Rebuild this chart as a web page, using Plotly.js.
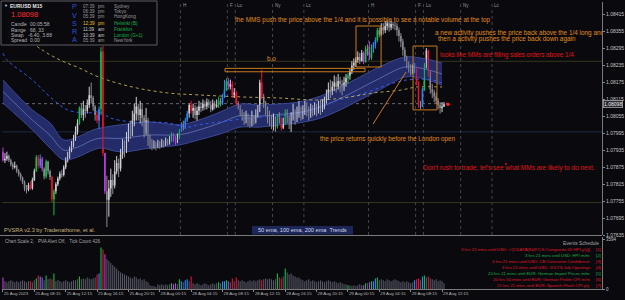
<!DOCTYPE html>
<html><head><meta charset="utf-8">
<script src="https://cdn.plot.ly/plotly-3.0.1.min.js"></script>
<style>html,body{margin:0;padding:0;background:#0a0a0e;}#chart{width:625px;height:300px;}</style>
</head><body><div id="chart"></div>
<script>
// ---------- DATA (prices in points above 1.07000, i.e. 1e-5 units) ----------
const tickBars = [0,16,32,48,64,80,96,112,128,144,160,176,192,208,224];
const tickLabels = ["25 Aug 2023","25 Aug 08:15","25 Aug 12:15","25 Aug 16:15","25 Aug 20:15","28 Aug 00:15","28 Aug 04:15","28 Aug 08:15","28 Aug 12:15","28 Aug 16:15","28 Aug 20:15","29 Aug 00:15","29 Aug 04:15","29 Aug 08:15","29 Aug 12:15"];
const firstOpen = 930;
const closePts = [900,905,915,900,885,875,880,862,850,838, 822,800,796,812,800,830,862,910,880,905,
 870,842,895,862,840,762,790,815,835,852, 848,875,900,915,935,955,975,1000,1030,1085,
 1060,1080,1075,1095,1130,1120,1090,1060,1040,1080, 1285,925,790,760,800,830,810,860,890,870,
 920,950,935,980,1010,990,1040,1065,1090,1060, 1080,1050,1000,1040,980,960,945,955,950,960,
 948,962,955,968,960,972,992,975,965,985, 1005,1025,1015,1040,1065,1095,1075,1085,1060,1075,
 1090,1085,1100,1090,1105,1095,1080,1100,1090,1095, 1110,1100,1125,1150,1180,1160,1170,1130,1140,1100,
 1090,1070,1060,1045,1055,1040,1030,1050,1035,1060, 1075,1175,1125,1100,1080,1060,1045,1030,1040,1020,
 1055,1045,1015,1030,1070,1050,1030,1050,1065,1045, 1060,1075,1060,1070,1085,1075,1065,1080,1070,1085,
 1075,1090,1080,1095,1110,1130,1150,1140,1160,1175, 1160,1180,1170,1155,1175,1190,1200,1215,1235,1245,
 1255,1265,1250,1280,1248,1295,1280,1262,1300,1310, 1325,1360,1345,1370,1360,1375,1385,1370,1382,1378,
 1375,1360,1340,1320,1290,1265,1240,1225,1215,1220, 1230,1175,1095,1090,1150,1235,1288,1205,1150,1140,
 1125,1110,1095,1085,1090,1098];
const highPts = [945,925,930,920,905,892,895,884,868,856, 842,828,812,820,825,838,870,918,918,920,
 912,875,902,898,866,845,798,822,842,860, 866,882,910,930,948,968,990,1020,1045,1090,
 1100,1110,1095,1115,1160,1175,1128,1095,1070,1090, 1300,1305,925,845,830,870,850,900,915,905,
 940,975,970,1000,1030,1040,1075,1100,1124,1100, 1110,1100,1060,1085,1050,990,975,970,965,972,
 968,975,970,980,975,985,998,995,985,995, 1010,1035,1040,1050,1075,1100,1110,1100,1095,1090,
 1110,1105,1115,1110,1118,1115,1110,1115,1110,1115, 1125,1120,1135,1184,1190,1190,1185,1180,1155,1145,
 1110,1095,1080,1070,1075,1065,1055,1075,1060,1080, 1095,1185,1220,1135,1110,1090,1075,1060,1065,1055,
 1062,1070,1050,1050,1080,1080,1060,1070,1100,1080, 1090,1110,1090,1095,1110,1105,1090,1100,1095,1105,
 1100,1110,1115,1115,1125,1150,1175,1185,1180,1200, 1195,1205,1195,1185,1195,1205,1208,1225,1250,1260,
 1265,1285,1280,1290,1285,1305,1310,1320,1310,1318, 1335,1368,1370,1385,1385,1392,1395,1392,1395,1390,
 1390,1385,1370,1350,1330,1300,1270,1250,1240,1238, 1244,1232,1180,1110,1158,1244,1297,1292,1215,1170,
 1150,1140,1120,1105,1105,1106];
const lowPts = [895,890,898,893,878,866,870,855,842,828, 815,790,782,790,795,795,826,858,870,872,
 860,832,835,850,830,752,705,780,808,828, 838,842,868,892,905,928,945,968,990,1025,
 1050,1040,1050,1065,1085,1100,1075,1040,1030,1010, 1060,915,780,663,700,770,780,800,850,840,
 860,905,910,925,965,975,985,1020,1040,1040, 1030,1020,980,990,950,940,935,940,935,942,
 940,945,945,950,952,955,965,965,955,960, 975,1000,1005,1010,1035,1050,1065,1050,1045,1040,
 1060,1070,1075,1078,1080,1085,1070,1075,1080,1085, 1085,1090,1095,1120,1145,1150,1150,1120,1120,1092,
 1080,1055,1040,1025,1030,1020,1015,1020,1025,1030, 1050,1070,1115,1085,1060,1030,1020,1010,1005,1000,
 1012,1030,1005,1010,1025,1030,1010,1000,1040,1025, 1035,1050,1040,1045,1060,1055,1040,1050,1055,1060,
 1055,1065,1060,1070,1080,1100,1115,1120,1130,1145, 1140,1150,1140,1130,1145,1160,1170,1185,1205,1220,
 1230,1245,1240,1250,1240,1245,1270,1255,1255,1280, 1295,1318,1335,1340,1345,1350,1360,1355,1360,1365,
 1360,1340,1320,1300,1270,1250,1225,1210,1200,1205, 1208,1165,1085,1080,1088,1145,1225,1195,1135,1120,
 1105,1100,1080,1065,1070,1088];
const tickVolumes = [840,560,490,560,630,560,490,560,490,560, 630,560,490,560,560,490,630,770,980,910,
 840,630,980,700,770,700,1120,560,630,560, 490,560,630,560,490,560,630,630,700,910,
 700,770,700,840,770,700,770,840,1050,1120, 3010,2870,2520,2170,2030,1890,1750,1610,1470,1330,
 1190,1120,1050,980,910,840,770,910,840,700, 770,630,700,560,490,280,210,210,140,350,
 280,350,280,350,280,350,420,350,420,350, 700,560,490,630,700,560,910,420,350,420,
 350,280,350,420,350,280,350,420,350,420, 490,420,560,560,630,560,490,770,560,840,
 630,560,630,560,490,560,630,560,630,560, 630,700,630,700,770,700,770,700,630,700,
 1120,840,770,910,1470,1190,1050,1120,980,910, 840,840,700,630,560,630,700,560,630,560,
 490,560,630,560,490,560,630,560,490,560, 490,420,490,420,350,350,280,280,210,280,
 210,280,350,280,280,420,420,490,560,560, 770,840,630,700,630,560,700,630,560,630,
 700,630,560,490,560,490,560,490,420,490, 630,700,770,630,910,980,840,910,770,700,
 630,700,560,630,560,426];
// PVSRA class per bar: n normal, g green climax bull, r red climax bear, b blue rising bull, v violet rising bear
const pvsraClass = ("vnnnnnnnnn"+"nnnnrnngrb"+"vngnnrgnnn"+"nnnnnnnnng"+"nnnnnnnnrb"+"grvnnnnnnn"+"nnnnnnnnnn"+"nnnnnnnnnn"+
 "nnnnnngvvn"+"gbnbbnrnnn"+"nnnnnnnnnn"+"gnbbgvnrnr"+"nnnnnnnnnn"+"nnrnnnnnnn"+"gnrngnnnnn"+"nnnnnnnnnn"+"nnnnnnnnnn"+
 "nnnnnngnnn"+"nnnnvgnvgb"+"bgnnnnnnnn"+"nnnnnnnnnn"+"brrnbgnrnn"+"nnnnnn").split("");
// 50 ema ribbon
const bandBars  = [0,15,24,31,38,46,50,60,75,90,100,111,121,131,141,151,162,172,182,192,205,213,224];
const bandUpper = [1184,1078,1032,972,982,1007,1014,1025,1035,1025,1042,1071,1099,1095,1099,1106,1127,1159,1194,1230,1265,1262,1244];
const bandLower = [1102,1007,943,901,911,936,943,929,943,954,972,993,1017,1017,1025,1032,1049,1078,1113,1148,1194,1191,1166];
const bandMid   = [1143,1042,988,936,946,972,978,977,989,990,1007,1032,1058,1056,1062,1069,1088,1118,1153,1189,1230,1226,1205];
// 100 ema & 200 ema
const ema100Bars = [0,2,15,24,33,43,49,55,66,75,84,94,100,126,152,168,186,196,206,219,224];
const ema100     = [1279,1255,1184,1124,1078,1067,1071,1049,1035,1035,1032,1017,1025,1049,1067,1106,1141,1166,1184,1184,1173];
const ema200Bars = [10,20,29,39,49,66,84,100,121,141,162,177,189,203,211,224];
const ema200     = [1343,1290,1255,1226,1194,1159,1138,1131,1124,1120,1113,1124,1138,1148,1159,1159];
const priceTicks = [1.07635,1.07695,1.07755,1.07815,1.07875,1.07935,1.07995,1.08055,1.08115,1.08175,1.08235,1.08295,1.08355,1.08415];
const quarterLevels = [1.0825, 1.0800, 1.0775];
const dottedLevel = 1.08100;
const lastPrice = 1.08098;
const sessionBars  = [90.5,114.5,118.5,137.5,153.5,186.5,210.5,214.5,233.5,249.5];
const sessionNames = ["H","F","Lo","Ny","Lc","H","F","Lo","Ny","Lc"];
const volumeMax = 3594;
const eventTexts = ["3 hrs 21 mins until USD: &lt;![CDATA[S&amp;P/CS Composite-20 HPI y/y]]","3 hrs 21 mins until USD: HPI m/m","4 hrs 21 mins until USD: CB Consumer Confidence","4 hrs 21 mins until USD: JOLTS Job Openings","20 hrs 21 mins until EUR: German Import Prices m/m","20 hrs 50 mins until EUR: German Prelim CPI m/m","21 hrs 21 mins until EUR: Spanish Flash CPI y/y"];
const eventImpact = ["r","g","r","r","g","r","r"];
const clockTimes = ["07:39","06:39","05:39","12:39","11:39","10:39","05:39"];
const clockAmPm = ["pm","pm","pm","pm","am","am","am"];
const clockCities = ["Sydney","Tokyo","HongKong","Helsinki (B)","Frankfurt","London (G+1)","NewYork"];

// ---------- BUILD ----------
const F = 'Liberation Sans, Arial, sans-serif';
const pr = p => 1.07 + p/1e5;
const opens = closePts.map((c,i)=> i===0 ? firstOpen : closePts[i-1]);
const COL = {up:'#cfcfd4', dn:'#8a8a92', g:'#12c048', r:'#ec1030', b:'#2a8cff', v:'#c23ae6'};
const VOLN = '#565664';
const traces = [];

// ema ribbon
traces.push({x:bandBars, y:bandUpper.map(pr), type:'scatter', mode:'lines', line:{color:'#3c4894', width:1, shape:'spline'}, hoverinfo:'skip', xaxis:'x', yaxis:'y'});
traces.push({x:bandBars, y:bandLower.map(pr), type:'scatter', mode:'lines', fill:'tonexty', fillcolor:'rgba(38,48,112,0.92)', line:{color:'#3c4894', width:1, shape:'spline'}, hoverinfo:'skip', xaxis:'x', yaxis:'y'});
traces.push({x:bandBars, y:bandMid.map(pr), type:'scatter', mode:'lines', line:{color:'#7080c4', width:0.7, shape:'spline'}, hoverinfo:'skip', xaxis:'x', yaxis:'y'});
traces.push({x:ema100Bars, y:ema100.map(pr), type:'scatter', mode:'lines', line:{color:'#3458f0', width:1, dash:'dot', shape:'spline'}, hoverinfo:'skip', xaxis:'x', yaxis:'y'});
traces.push({x:ema200Bars, y:ema200.map(pr), type:'scatter', mode:'lines', line:{color:'#b0a052', width:1, dash:'dot', shape:'spline'}, hoverinfo:'skip', xaxis:'x', yaxis:'y'});

// candles grouped by colour
const groups = {};
closePts.forEach((c,i)=>{
  const k = pvsraClass[i]==='n' ? (c>=opens[i]?'up':'dn') : pvsraClass[i];
  (groups[k] = groups[k] || []).push(i);
});
Object.keys(groups).forEach(k=>{
  const idx = groups[k];
  const wx=[], wy=[];
  idx.forEach(i=>{ wx.push(i,i,null); wy.push(pr(lowPts[i]),pr(highPts[i]),null); });
  traces.push({x:wx, y:wy, type:'scatter', mode:'lines', line:{color:COL[k], width:1}, connectgaps:false, hoverinfo:'skip', xaxis:'x', yaxis:'y'});
  traces.push({x:idx, base:idx.map(i=>pr(Math.min(opens[i],closePts[i]))), y:idx.map(i=>Math.abs(closePts[i]-opens[i])/1e5), type:'bar', width:0.8, marker:{color:COL[k], line:{width:0}}, hoverinfo:'skip', xaxis:'x', yaxis:'y'});
});

// volume
traces.push({x:tickVolumes.map((v,i)=>i), y:tickVolumes, type:'bar', width:0.55,
  marker:{color:pvsraClass.map(c=> c==='n'?VOLN:COL[c]), line:{width:0}}, hoverinfo:'skip', xaxis:'x', yaxis:'y2'});

// clipped note text (cut by the chart edge)
traces.push({x:[220.4], y:[pr(1349)], type:'scatter', mode:'text', text:['a new activity pushes the price back above the 1/4 long and'], textposition:'middle right', textfont:{family:F, size:6.4, color:'#e08a1c'}, cliponaxis:true, hoverinfo:'skip', xaxis:'x', yaxis:'y'});
// last price marker
traces.push({x:[227], y:[lastPrice], type:'scatter', mode:'markers', marker:{color:'#ff2020', size:3.5}, hoverinfo:'skip', xaxis:'x', yaxis:'y'});
traces.push({x:[256.6], y:[pr(886)], type:'scatter', mode:'markers', marker:{color:'#e01010', size:2}, hoverinfo:'skip', xaxis:'x', yaxis:'y'});

// ---------- LAYOUT ----------
const PX = x => x/625, PY = y => 1 - y/300;
const shapes = [];
const ORANGE = '#e08a1c';
quarterLevels.forEach((q,k)=>shapes.push({type:'line', xref:'x domain', x0:0, x1:1, yref:'y', y0:q, y1:q, line:{color: k===1?'#1b2a44':'#35351f', width:1}, layer:'below'}));
shapes.push({type:'line', xref:'x', x0:-0.5, x1:227, yref:'y', y0:dottedLevel, y1:dottedLevel, line:{color:'#6a6a70', width:1, dash:'dot'}, layer:'below'});
sessionBars.forEach(b=>shapes.push({type:'line', xref:'x', x0:b, x1:b, yref:'y domain', y0:0, y1:1, line:{color:'#44444c', width:1, dash:'dot'}, layer:'below'}));
shapes.push({type:'rect', xref:'x', yref:'y', x0:113.3, x1:184.7, y0:pr(1213), y1:pr(1225), line:{color:'#c87a1c', width:1}});
shapes.push({type:'rect', xref:'x', yref:'y', x0:180.1, x1:192.9, y0:pr(1230), y1:pr(1375), line:{color:'#c87a1c', width:1}});
shapes.push({type:'rect', xref:'x', yref:'y', x0:209.2, x1:221.4, y0:pr(1078), y1:pr(1304), line:{color:'#c87a1c', width:1}});
shapes.push({type:'line', xref:'x', yref:'y', x0:188.8, x1:205.6, y0:pr(1028), y1:pr(1212), line:{color:'#c87a1c', width:1}});
// panel separator
shapes.push({type:'line', xref:'paper', yref:'paper', x0:0, x1:PX(602), y0:PY(235.5), y1:PY(235.5), line:{color:'#7a7a7a', width:1}});
// info box
shapes.push({type:'rect', xref:'paper', yref:'paper', x0:PX(1), x1:PX(157), y0:PY(45), y1:PY(1), fillcolor:'#0a0a0e', line:{color:'#5c5c62', width:1}, layer:'above'});
// ema legend box
shapes.push({type:'rect', xref:'paper', yref:'paper', x0:PX(252), x1:PX(353), y0:PY(234.5), y1:PY(226), fillcolor:'#1c2658', line:{width:0}, layer:'above'});

const ann = [];
const T = (x,y,text,color,size,o={}) => ann.push(Object.assign({xref:'paper', yref:'paper', x:PX(x), y:PY(y), text, showarrow:false, xanchor:'left', yanchor:'middle', borderpad:0, font:{family:F, size, color}}, o));
const D = (x,y,text,color,size,o={}) => ann.push(Object.assign({xref:'x', yref:'y', x, y, text, showarrow:false, xanchor:'left', yanchor:'middle', borderpad:0, font:{family:F, size, color}}, o));

// notes
D(117.9, pr(1396), 'the MMS push the price above the 1/4 and it is possible to see a notable volume at the top', ORANGE, 6.4);
D(134.2, pr(1260), 'b.o', ORANGE, 6.4);
D(221.4, pr(1328), 'then a activity pushes the price back down again', ORANGE, 6.4);
D(222.4, pr(1272), 'looks like MMs are filling sales orders above 1/4', '#e01418', 6.3);
D(161.2, pr(975), 'the price returns quickly before the London open', ORANGE, 6.3);
D(213.8, pr(871), "Don't rush to trade, let's see what MMs are likely to do next.", '#e01418', 6.5);
// session labels
sessionBars.forEach((b,k)=>D(b+0.6, 0, sessionNames[k], '#9a9a9a', 4.5, {yref:'paper', y:PY(5)}));

// info panel
T(3,5.5,'▼','#d8d8d8',4);
T(9,6,'<b>EURUSD M15</b>','#e6e6e6',5);
T(9.5,14.5,'1.08098','#ff2a2a',7.5);
[['Candle','00:05:58'],['Range','68, 33'],['Swap','-6.40, 3.88'],['Spread','0.00']].forEach((r,k)=>{
  const y=[24,29.5,34.5,40][k];
  T(10,y,r[0],'#b4b4b4',5); T(k===2?27:29,y,r[1],'#b4b4b4',5);
});
'PVSRA'.split('').forEach((ch,k)=>T(74,[6.7,15,23.3,31.7,40][k],ch,'#3050d8',7.2,{xanchor:'center'}));
clockTimes.forEach((t,k)=>{
  const y=[6,11.7,16.9,24,29.3,35,40.7][k];
  const tc = k===3?'#e8c020':(k===4||k===5?'#c8c8c8':'#9a9a9a');
  const cc = (k>=3&&k<=5)?'#18b048':'#9a9a9a';
  T(96,y,t,tc,4.6,{xanchor:'right'}); T(97,y,clockAmPm[k],tc,4.6); T(113,y,clockCities[k],cc,4.6);
});
// bottom-of-main texts
T(3,230,'PVSRA v2.3 by Tradenathome, et al.','#c8b47c',5.6);
T(302.5,230.3,'50 ema, 100 ema, 200 ema  Trends','#d4d8ec',5.6,{xanchor:'center'});
T(4,241,'Chart Scale 2,   PVA Alert Off,   Tick Count 426','#a4a4a4',4.6);
T(600,243,'Events Schedule','#a8a8a8',4.8,{xanchor:'right'});
eventTexts.forEach((e,k)=>{
  const y=249.3+k*5.95, c=eventImpact[k]==='r'?'#e01428':'#1cb046';
  T(591,y,e,c,4.3,{xanchor:'right'}); T(595,y,'['+(k+1)+']',c,4.3);
});
// price label box
ann.push({xref:'paper', yref:'y', x:PX(603), y:lastPrice, text:'1.08098', showarrow:false, xanchor:'left', yanchor:'middle', bgcolor:'#2a2a30', bordercolor:'#c8c8c8', borderwidth:0.6, borderpad:0.5, font:{family:F, size:5, color:'#e8e8e8'}});

const layout = {
  width:625, height:300, margin:{l:0,r:0,t:0,b:0},
  paper_bgcolor:'#0a0a0e', plot_bgcolor:'#0a0a0e', showlegend:false, barmode:'overlay', hovermode:false,
  xaxis:{domain:[PX(2),PX(602)], range:[-0.5,305.6], anchor:'y2', showgrid:false, zeroline:false,
    tickvals:tickBars, ticktext:tickLabels, ticks:'outside', ticklen:2, tickcolor:'#8a8a8a', ticklabelposition:'outside right',
    tickangle:0, ticklabelstandoff:0, automargin:false,
    tickfont:{family:F, size:4.3, color:'#b8b8b8'}, showline:true, linecolor:'#7a7a7a', linewidth:1},
  yaxis:{domain:[PY(235),PY(2)], range:[1.07635,1.08460], side:'right', anchor:'x', showgrid:false, zeroline:false,
    tickvals:priceTicks, ticktext:priceTicks.map(v=>v.toFixed(5)), ticks:'outside', ticklen:2, tickcolor:'#8a8a8a',
    tickfont:{family:F, size:5, color:'#c4c4c4'}, showline:true, linecolor:'#7a7a7a', linewidth:1},
  yaxis2:{domain:[PY(289),PY(237)], range:[0,volumeMax*1.05], side:'right', anchor:'x', showgrid:false, zeroline:false,
    tickvals:[0,volumeMax], ticktext:['0',String(volumeMax)], ticks:'outside', ticklen:2, tickcolor:'#8a8a8a',
    tickfont:{family:F, size:4.5, color:'#c4c4c4'}, showline:true, linecolor:'#7a7a7a', linewidth:1},
  shapes, annotations:ann
};
Plotly.newPlot('chart', traces, layout, {staticPlot:true, displayModeBar:false});
</script></body></html>
